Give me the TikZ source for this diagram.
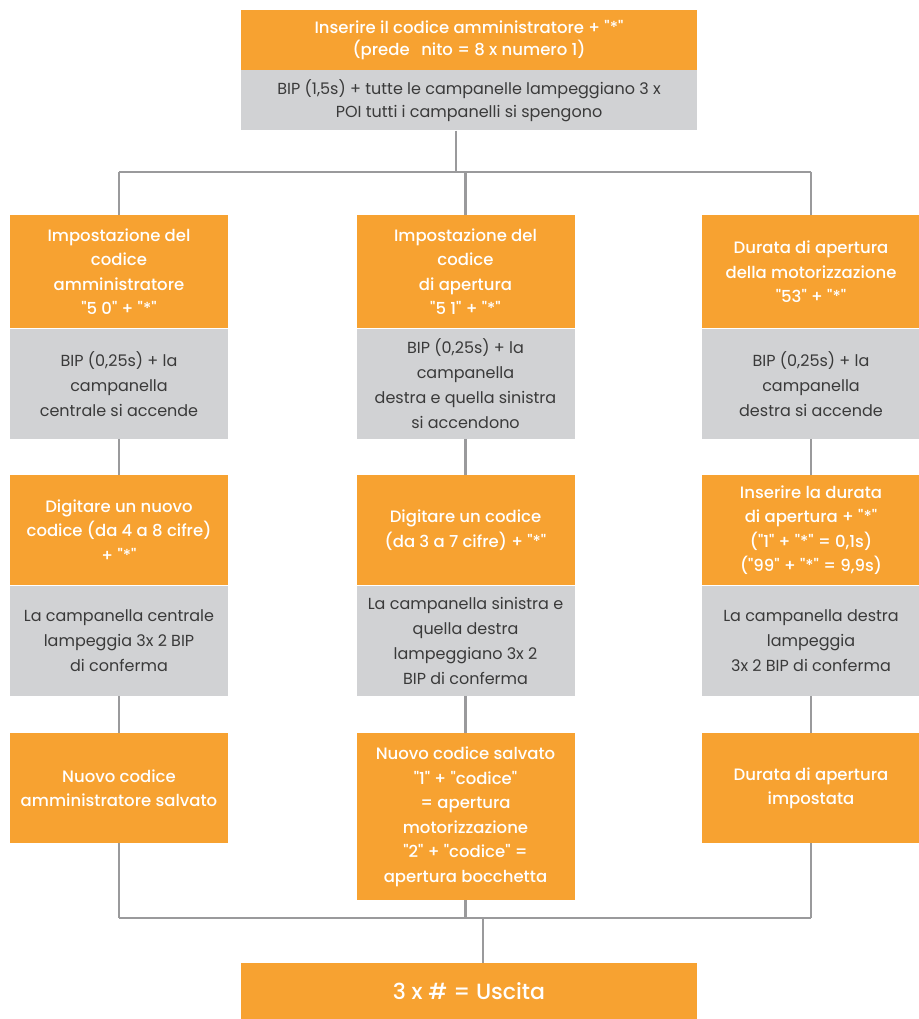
\documentclass[tikz,border=0pt]{standalone}
\usepackage{fontspec}
\setmainfont{Poppins}
\newfontfamily\medio{Poppins Medium}
\usetikzlibrary{positioning}
\definecolor{arancio}{HTML}{F7A231}
\definecolor{grigio}{HTML}{D1D2D4}
\definecolor{linea}{HTML}{9A9A9C}
\definecolor{testo}{HTML}{3A3A3A}
\tikzstyle{passo}=[rectangle,fill=arancio,text=white,align=center,minimum width=218,minimum height=110,inner sep=0,font=\medio\fontsize{16.5}{24.5}\selectfont]
\tikzstyle{esito}=[passo,fill=grigio,text=testo,font=\fontsize{16}{25}\selectfont]
\tikzstyle{filo}=[draw=linea,line width=2.5]

\begin{document}
\begin{tikzpicture}[x=1pt,y=-1pt]
	\useasboundingbox (0,0) rectangle (918,1019);
	% inizio
	\node[passo,minimum width=456,minimum height=60,font=\medio\fontsize{16.5}{22}\selectfont](inizio) at (469,40){Inserire il codice amministratore + "*"\\(prede\hspace{0.7em}nito = 8 x numero 1)};
	\node[esito,minimum width=456,minimum height=60,below=0 of inizio,font=\fontsize{16}{23}\selectfont](bip){BIP (1,5s) + tutte le campanelle lampeggiano 3 x\\POI tutti i campanelli si spengono};
	% colonna sinistra
	\node[passo,anchor=north,minimum height=113](impA) at (119,215){Impostazione del\\codice\\amministratore\\"5 0" + "*"};
	\node[esito,below=0 of impA](bipA){BIP (0,25s) + la\\campanella\\centrale si accende};
	\node[passo,anchor=north](digA) at (119,475){Digitare un nuovo\\codice (da 4 a 8 cifre)\\+ "*"};
	\node[esito,below=0 of digA](confA){La campanella centrale\\lampeggia 3x 2 BIP\\di conferma};
	\node[passo,anchor=north](fineA) at (119,733){Nuovo codice\\amministratore salvato};
	% colonna centrale
	\node[passo,anchor=north,minimum height=113](impB) at (465.5,215){Impostazione del\\codice\\di apertura\\"5 1" + "*"};
	\node[esito,below=0 of impB](bipB){BIP (0,25s) + la\\campanella\\destra e quella sinistra\\si accendono};
	\node[passo,anchor=north](digB) at (465.5,475){Digitare un codice\\(da 3 a 7 cifre) + "*"};
	\node[esito,below=0 of digB](confB){La campanella sinistra e\\quella destra\\lampeggiano 3x 2\\BIP di conferma};
	\node[passo,anchor=north,minimum height=167](fineB) at (465.5,733){Nuovo codice salvato\\"1" + "codice"\\= apertura\\motorizzazione\\"2" + "codice" =\\apertura bocchetta};
	% colonna destra
	\node[passo,anchor=north,minimum height=113](impC) at (811,215){Durata di apertura\\della motorizzazione\\"53" + "*"};
	\node[esito,below=0 of impC](bipC){BIP (0,25s) + la\\campanella\\destra si accende};
	\node[passo,anchor=north](digC) at (811,475){Inserire la durata\\di apertura + "*"\\("1" + "*" = 0,1s)\\("99" + "*" = 9,9s)};
	\node[esito,below=0 of digC](confC){La campanella destra\\lampeggia\\3x 2 BIP di conferma};
	\node[passo,anchor=north](fineC) at (811,733){Durata di apertura\\impostata};
	% uscita
	\node[passo,minimum width=456,minimum height=56,font=\medio\fontsize{22}{26}\selectfont](uscita) at (469,991){3 x \# = Uscita};
	% collegamenti
	\coordinate (nodo) at (456,172);
	\coordinate (raccolta) at (483,918);
	\draw[filo] (bip.south -| nodo) -- (nodo);
	\draw[filo] (impA.north |- nodo) -- (impC.north |- nodo);
	\foreach \c in {A,B,C} {
		\draw[filo] (imp\c.north |- nodo) -- (imp\c.north);
		\draw[filo] (bip\c) -- (dig\c);
		\draw[filo] (conf\c) -- (fine\c);
		\draw[filo] (fine\c) -- (fine\c.south |- raccolta);
	}
	\draw[filo] (fineA.south |- raccolta) -- (fineC.south |- raccolta);
	\draw[filo] (raccolta) -- (raccolta |- uscita.north);
\end{tikzpicture}
\end{document}
